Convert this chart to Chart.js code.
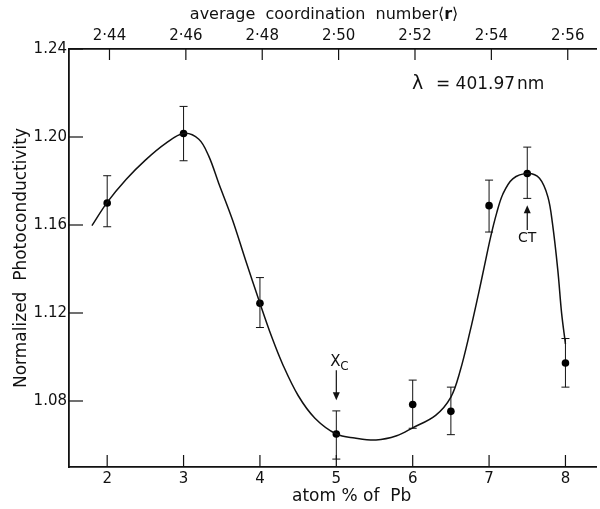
<!DOCTYPE html>
<html lang="en">
<head>
  <meta charset="UTF-8" />
  <title>Normalized Photoconductivity vs atom % of Pb</title>
  <script src="https://cdn.jsdelivr.net/npm/chart.js"></script>
  <style>
    html, body { margin: 0; padding: 0; background: #fff; }
    #wrap { width: 600px; height: 509px; position: relative; }
  </style>
</head>
<body>
  <div id="wrap"><canvas id="grafico"></canvas></div>
  <script>
    // measured points (atom % Pb) with error bars
    const pbAtom = [2, 3, 4, 5, 6, 6.5, 7, 7.5, 8];
    const photo = [1.170, 1.2016, 1.1244, 1.065, 1.0784, 1.0753, 1.1688, 1.1834, 1.0973];
    const errLow = [1.1592, 1.1892, 1.1134, 1.0536, 1.0676, 1.0647, 1.1568, 1.1721, 1.0863];
    const errHigh = [1.1824, 1.2139, 1.1361, 1.0755, 1.0895, 1.0863, 1.1804, 1.1954, 1.1084];

    // hand drawn guide curve
    const fitX = [1.80, 2.0, 2.25, 2.5, 2.77, 3.0, 3.2, 3.33, 3.46, 3.64, 3.81, 4.0, 4.15, 4.3, 4.5, 4.72, 5.0, 5.24, 5.52, 5.79, 6.0, 6.3, 6.5, 6.62, 6.75, 6.86, 6.94, 7.02, 7.1, 7.18, 7.31, 7.51, 7.66, 7.77, 7.83, 7.9, 7.95, 8.0];
    const fitY = [1.1597, 1.1703, 1.1808, 1.1895, 1.1972, 1.2016, 1.199, 1.1913, 1.179, 1.1624, 1.1442, 1.1244, 1.1095, 1.0965, 1.0825, 1.0722, 1.065, 1.0632, 1.0623, 1.0642, 1.0678, 1.0735, 1.0818, 1.0935, 1.1115, 1.1285, 1.1415, 1.1545, 1.1655, 1.174, 1.181, 1.1834, 1.1812, 1.1728, 1.1607, 1.1395, 1.1198, 1.106];

    // tick labels
    const bottomTicks = [2, 3, 4, 5, 6, 7, 8];
    const topTicks = [2.44, 2.46, 2.48, 2.50, 2.52, 2.54, 2.56];
    const leftTicks = [1.08, 1.12, 1.16, 1.20, 1.24];

    const FONT = "'DejaVu Sans', sans-serif";

    function linea(ctx, x1, y1, x2, y2) {
      ctx.beginPath(); ctx.moveTo(x1, y1); ctx.lineTo(x2, y2); ctx.stroke();
    }

    function flecha(ctx, px, yTail, yTip) {
      const dir = yTip > yTail ? 1 : -1;
      linea(ctx, px, yTail, px, yTip - dir * 6);
      ctx.beginPath();
      ctx.moveTo(px, yTip);
      ctx.lineTo(px - 3.5, yTip - dir * 8);
      ctx.lineTo(px + 3.5, yTip - dir * 8);
      ctx.closePath();
      ctx.fill();
    }

    const extras = {
      id: 'extras',
      beforeDatasetsDraw(chart) {
        const { ctx, scales: { x, y } } = chart;
        ctx.save();
        ctx.strokeStyle = '#111';
        ctx.lineWidth = 1;
        pbAtom.forEach((u, i) => {
          const px = x.getPixelForValue(u);
          const top = y.getPixelForValue(errHigh[i]);
          const bot = y.getPixelForValue(errLow[i]);
          linea(ctx, px, top, px, bot);
          linea(ctx, px - 4, top, px + 4, top);
          linea(ctx, px - 4, bot, px + 4, bot);
        });
        ctx.restore();
      },
      afterDraw(chart) {
        const { ctx, scales: { x, y, x2 }, chartArea: a } = chart;
        ctx.save();
        ctx.strokeStyle = '#111';
        ctx.fillStyle = '#111';

        // ticks pointing inwards
        ctx.lineWidth = 1.2;
        bottomTicks.forEach(u => { const px = x.getPixelForValue(u); linea(ctx, px, a.bottom, px, a.bottom - 12); });
        topTicks.forEach(r => { const px = x2.getPixelForValue(r); linea(ctx, px, a.top, px, a.top + 11); });
        leftTicks.forEach(v => { const py = y.getPixelForValue(v); linea(ctx, a.left, py, a.left + 14, py); });

        // arrows
        ctx.lineWidth = 1.2;
        flecha(ctx, x.getPixelForValue(5), y.getPixelForValue(1.094), y.getPixelForValue(1.0803));
        flecha(ctx, x.getPixelForValue(7.5), y.getPixelForValue(1.1577), y.getPixelForValue(1.169));

        ctx.textBaseline = 'middle';
        ctx.textAlign = 'center';
        ctx.font = '15px ' + FONT;
        ctx.fillText('X', x.getPixelForValue(5) - 1, y.getPixelForValue(1.0976));
        ctx.font = '12px ' + FONT;
        ctx.fillText('C', x.getPixelForValue(5) + 8, y.getPixelForValue(1.0955));
        ctx.font = '14px ' + FONT;
        ctx.fillText('CT', x.getPixelForValue(7.5), y.getPixelForValue(1.154));

        // wavelength
        ctx.textAlign = 'left';
        const lx = x.getPixelForValue(5.99), ly = y.getPixelForValue(1.224);
        ctx.font = '19px ' + FONT;
        ctx.fillText('λ', lx, ly);
        ctx.font = '17px ' + FONT;
        ctx.fillText('= 401.97', lx + 24, ly);
        ctx.fillText('nm', lx + 24 + ctx.measureText('= 401.97').width + 2, ly);

        // axis titles
        ctx.textAlign = 'center';
        ctx.font = '17px ' + FONT;
        ctx.fillText('atom % of  Pb', x.getPixelForValue(5.2), 497);

        ctx.save();
        ctx.translate(22, (a.top + a.bottom) / 2);
        ctx.rotate(-Math.PI / 2);
        ctx.fillText('Normalized  Photoconductivity', 0, 0);
        ctx.restore();

        ctx.textAlign = 'left';
        ctx.font = '16px ' + FONT;
        const t1 = 'average  coordination  number⟨';
        const w1 = ctx.measureText(t1).width;
        ctx.font = 'bold 16px ' + FONT;
        const w2 = ctx.measureText('r').width;
        ctx.font = '16px ' + FONT;
        const w3 = ctx.measureText('⟩').width;
        let tx = x.getPixelForValue(4.84) - (w1 + w2 + w3) / 2;
        ctx.fillText(t1, tx, 15);
        ctx.font = 'bold 16px ' + FONT;
        ctx.fillText('r', tx + w1, 15);
        ctx.font = '16px ' + FONT;
        ctx.fillText('⟩', tx + w1 + w2, 15);

        ctx.restore();
      }
    };

    const ctx = document.getElementById('grafico').getContext('2d');
    new Chart(ctx, {
      type: 'scatter',
      data: {
        datasets: [
          {
            label: 'curva',
            type: 'line',
            data: fitX.map((u, i) => ({ x: u, y: fitY[i] })),
            borderColor: '#111',
            borderWidth: 1.5,
            pointRadius: 0,
            fill: false,
            tension: 0.35
          },
          {
            label: 'medidas',
            data: pbAtom.map((u, i) => ({ x: u, y: photo[i] })),
            backgroundColor: '#000',
            borderWidth: 0,
            pointRadius: 3.8
          }
        ]
      },
      options: {
        responsive: true,
        maintainAspectRatio: false,
        animation: false,
        layout: { padding: 0 },
        plugins: { legend: { display: false }, tooltip: { enabled: false } },
        scales: {
          x: {
            type: 'linear',
            position: 'bottom',
            min: 1.5,
            max: 8.4,
            afterBuildTicks: s => { s.ticks = bottomTicks.map(v => ({ value: v })); },
            afterFit: s => { s.height = 42; },
            grid: { display: false, drawTicks: false },
            border: { display: true, color: '#111', width: 1.8 },
            ticks: { color: '#111', padding: 3, font: { family: FONT, size: 15 }, callback: v => String(v) }
          },
          x2: {
            type: 'linear',
            position: 'top',
            min: 2.4294,
            max: 2.5674,
            afterBuildTicks: s => { s.ticks = topTicks.map(v => ({ value: v })); },
            afterFit: s => { s.height = 49; },
            grid: { display: false, drawTicks: false },
            border: { display: true, color: '#111', width: 1.8 },
            ticks: { color: '#111', padding: 4, font: { family: FONT, size: 15 }, callback: v => v.toFixed(2).replace('.', '·') }
          },
          y: {
            type: 'linear',
            position: 'left',
            min: 1.05,
            max: 1.24,
            afterBuildTicks: s => { s.ticks = leftTicks.map(v => ({ value: v })); },
            afterFit: s => { s.width = 69; },
            grid: { display: false, drawTicks: false },
            border: { display: true, color: '#111', width: 1.8 },
            ticks: { color: '#111', padding: 2, font: { family: FONT, size: 15 }, callback: v => v.toFixed(2) }
          }
        }
      },
      plugins: [extras]
    });
  </script>
</body>
</html>
